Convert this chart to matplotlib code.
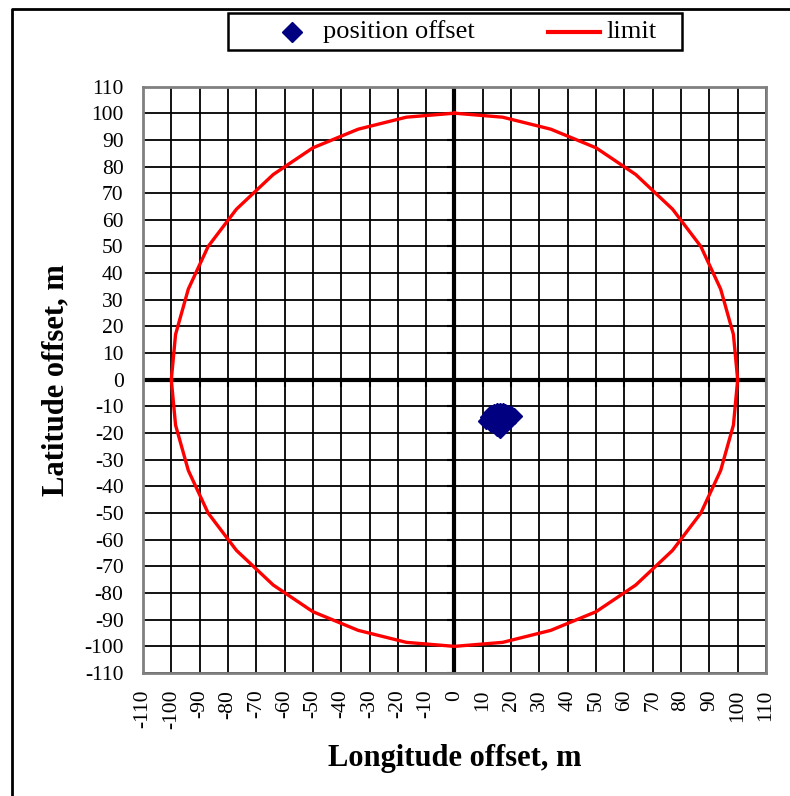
import matplotlib
matplotlib.use("Agg")
import matplotlib.pyplot as plt
from matplotlib.lines import Line2D
from matplotlib.patches import Rectangle
import numpy as np

plt.rcParams['font.family'] = ['Liberation Serif', 'DejaVu Serif']

# position offset samples (longitude, latitude), m
pos_lon = [11, 12, 13, 14, 15, 16, 17, 18, 19, 20, 21, 13, 14, 16, 18, 19, 15, 16, 17, 18, 14, 16]
pos_lat = [-15.5, -14, -12.5, -12, -11.7, -11.7, -11.7, -12, -12.5, -13, -13.5, -16.5, -17, -15, -14.5, -16, -18, -19, -17.5, -16.5, -14, -13.5]

# limit polygon (radius 100 m), vertices
lim_lon = [0, 17, 34, 50, 64, 77, 87, 94, 98.5, 100, 98.5, 94, 87, 77, 64, 50, 34, 17,
           0, -17, -34, -50, -64, -77, -87, -94, -98.5, -100, -98.5, -94, -87, -77, -64, -50, -34, -17, 0]
lim_lat = [100, 98.5, 94, 87, 77, 64, 50, 34, 17, 0, -17, -34, -50, -64, -77, -87, -94, -98.5,
           -100, -98.5, -94, -87, -77, -64, -50, -34, -17, 0, 17, 34, 50, 64, 77, 87, 94, 98.5, 100]

ticks = list(range(-110, 111, 10))
tick_labels = [str(t) for t in ticks]
series_names = ['position offset', 'limit']

W, H = 790, 796
fig = plt.figure(figsize=(W / 100, H / 100), dpi=100)
ax = fig.add_axes([0.181, 0.1545, 0.7886, 0.7368])

ax.set_xlim(-110, 110)
ax.set_ylim(-110, 110)
ax.set_xticks(ticks)
ax.set_yticks(ticks)
ax.set_xticklabels(tick_labels, rotation=90, fontsize=15.5)
ax.set_yticklabels(tick_labels, fontsize=15.5)
ax.tick_params(axis='both', length=0)
ax.tick_params(axis='x', pad=12)
ax.tick_params(axis='y', pad=14)
ax.grid(True, color='black', linewidth=1.3)
ax.set_axisbelow(True)
for s in ax.spines.values():
    s.set_color('#808080')
    s.set_linewidth(2)

# zero axes
ax.axhline(0, color='black', linewidth=3, zorder=2)
ax.axvline(0, color='black', linewidth=3, zorder=2)
ax.plot(ticks, [0] * len(ticks), linestyle='none', marker=3, markersize=5, color='black', mew=1.5, zorder=2)
ax.plot([0] * len(ticks), ticks, linestyle='none', marker=0, markersize=5, color='black', mew=1.5, zorder=2)

ax.plot(lim_lon, lim_lat, color='#ff0000', linewidth=2.4, zorder=3, label=series_names[1])
ax.plot(pos_lon, pos_lat, linestyle='none', marker='D', markersize=8, color='#000080', zorder=4,
        label=series_names[0])

ax.set_xlabel('Longitude offset, m', fontsize=22, fontweight='bold', labelpad=11)
ax.set_ylabel('Latitude offset, m', fontsize=22, fontweight='bold', labelpad=10)

# legend (drawn in figure pixel coordinates, top-left origin)
def fx(px):
    return px / W

def fy(py):
    return 1 - py / H

fig.add_artist(Rectangle((fx(228), fy(50)), fx(682) - fx(228), fy(13) - fy(50),
                         transform=fig.transFigure, facecolor='white', edgecolor='black',
                         linewidth=1.8))
fig.add_artist(Line2D([fx(292)], [fy(32)], transform=fig.transFigure, linestyle='none',
                      marker='D', markersize=10, color='#000080'))
fig.text(fx(323), fy(32), series_names[0], fontsize=19, ha='left', va='center')
fig.add_artist(Line2D([fx(548), fx(600)], [fy(32), fy(32)], transform=fig.transFigure,
                      color='#ff0000', linewidth=3))
fig.text(fx(606), fy(32), series_names[1], fontsize=19, ha='left', va='center')

# outer chart border (left and top visible)
fig.add_artist(Line2D([fx(12), fx(12), 1.0], [0.0, fy(9), fy(9)],
                      transform=fig.transFigure, color='black', linewidth=2))

fig.savefig('out.png', dpi=100)
